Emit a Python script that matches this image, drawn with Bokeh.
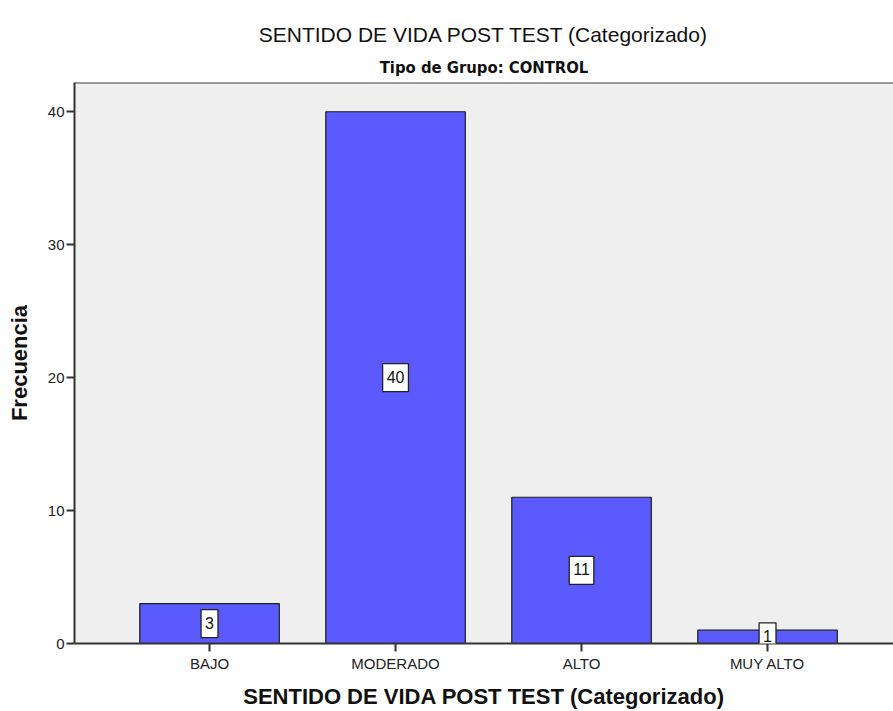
from bokeh.plotting import figure
from bokeh.models import Range1d, FixedTicker, Title, Span, Label, ColumnDataSource
from bokeh.embed import file_html
from bokeh.resources import INLINE

# ---- data ----
categories = ["BAJO", "MODERADO", "ALTO", "MUY ALTO"]
frequencies = [3, 40, 11, 1]
y_ticks = [0, 10, 20, 30, 40]
title_text = "SENTIDO DE VIDA POST TEST (Categorizado)"
subtitle_text = "Tipo de Grupo: CONTROL"
x_label = "SENTIDO DE VIDA POST TEST (Categorizado)"
y_label = "Frecuencia"

positions = list(range(1, len(categories) + 1))
mids = [v / 2 for v in frequencies]

W, H = 893, 711
left_b, top_b, bottom_b = 74, 82, 67
frame_w = W - left_b
px_per_cat = 186
x_start = 1 - 0.726
x_end = x_start + frame_w / px_per_cat
y_top = 42.2

p = figure(width=W, height=H, output_backend="svg", toolbar_location=None,
           x_range=Range1d(x_start, x_end), y_range=Range1d(0, y_top),
           min_border_left=left_b, min_border_top=top_b,
           min_border_bottom=bottom_b, min_border_right=0)

p.background_fill_color = "#efefef"
p.border_fill_color = "white"
p.outline_line_color = None
p.xgrid.grid_line_color = None
p.ygrid.grid_line_color = None

src = ColumnDataSource(dict(x=positions, top=frequencies, mid=mids))
p.vbar(x="x", top="top", bottom=0, width=0.75, source=src,
       fill_color="#5a5aff", line_color="#1e1e1e", line_width=1.2)

for xv, yv, t in zip(positions, mids, frequencies):
    p.add_layout(Label(x=xv, y=yv, text=str(t), text_align="center",
                       text_baseline="middle", text_font="Liberation Sans",
                       text_font_size="16px", text_color="#111111",
                       background_fill_color="white",
                       border_line_color="#222222", border_line_width=1.3,
                       padding=dict(left=4, right=4, top=7, bottom=9)))

top_line = Span(location=y_top, dimension="width", line_color="#444444", line_width=2)
p.add_layout(top_line)

# axes
for ax in (p.xaxis[0], p.yaxis[0]):
    ax.axis_line_color = "#333333"
    ax.axis_line_width = 2
    ax.major_tick_line_color = "#333333"
    ax.major_tick_line_width = 2
    ax.major_tick_in = 0
    ax.major_tick_out = 8
    ax.minor_tick_line_color = None
    ax.major_label_text_font = "Liberation Sans"
    ax.major_label_text_font_size = "15px"
    ax.major_label_text_color = "#222222"
    ax.axis_label_text_font = "Liberation Sans"
    ax.axis_label_text_font_style = "bold"
    ax.axis_label_text_font_size = "22px"
    ax.axis_label_text_color = "#111111"

p.xaxis.ticker = FixedTicker(ticks=positions)
p.xaxis.major_label_overrides = {pos: c for pos, c in zip(positions, categories)}
p.xaxis.axis_label = x_label
p.xaxis.major_label_standoff = 3
p.xaxis.axis_label_standoff = 9

p.yaxis.ticker = FixedTicker(ticks=y_ticks)
p.yaxis.axis_label = y_label
p.yaxis.major_label_standoff = 2
p.yaxis.axis_label_standoff = 13

p.add_layout(Title(text=subtitle_text, align="center",
                   text_font="DejaVu Sans Condensed",
                   text_font_style="bold", text_font_size="16.5px",
                   text_color="#111111", standoff=12), "above")
p.add_layout(Title(text=title_text, align="center", text_font="Liberation Sans",
                   text_font_style="normal", text_font_size="21px",
                   text_color="#111111", standoff=7), "above")

open("out.html", "w").write(file_html(p, INLINE))
